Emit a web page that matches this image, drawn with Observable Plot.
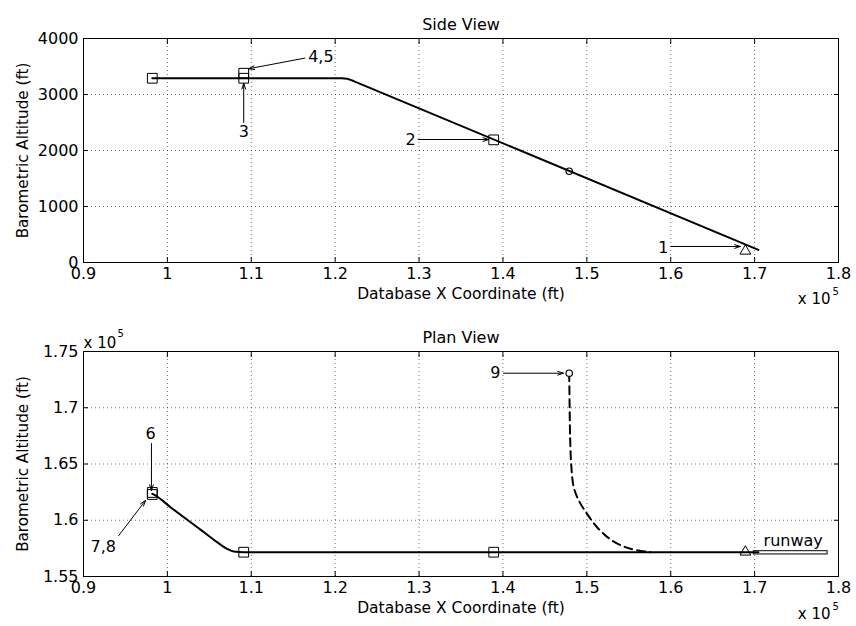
<!DOCTYPE html>
<html>
<head>
<meta charset="utf-8">
<script src="https://cdn.jsdelivr.net/npm/d3@7"></script>
<script src="https://cdn.jsdelivr.net/npm/@observablehq/plot@0.6"></script>
<style>
  html, body { margin: 0; padding: 0; background: #fff; }
  #wrap { position: relative; width: 856px; height: 626px; background: #fff; }
  #wrap svg { position: absolute; left: 0; }
</style>
</head>
<body>
<div id="wrap"></div>
<script>
// ---------- data ----------
const xTicks = [90000, 100000, 110000, 120000, 130000, 140000, 150000, 160000, 170000, 180000];
const sideYTicks = [0, 1000, 2000, 3000, 4000];
const planYTicks = [155000, 160000, 165000, 170000, 175000];

// Side view flight path
const sideLineX = [98200, 120800, 121400, 122200, 170450];
const sideLineY = [3290, 3290, 3283, 3240, 225];
const sideSquareX = [98200, 109100, 109100, 138900];
const sideSquareY = [3290, 3290, 3380, 2190];
const sideCircleX = [147900];
const sideCircleY = [1630];
const sideTriX = [168900];
const sideTriY = [205];
const sideLabels = ["4,5", "3", "2", "1"];
const sideLabelX = [118300, 109100, 128980, 159130];
const sideLabelY = [3665, 2330, 2190, 270];
const sideArrowX1 = [116400, 109100, 129900, 160000];
const sideArrowY1 = [3650, 2500, 2196, 286];
const sideArrowX2 = [109700, 109100, 138300, 168300];
const sideArrowY2 = [3460, 3200, 2196, 286];

// Plan view path
const planLineX = [98200, 98460, 100370, 103940, 105930, 107130, 107910, 109100, 138900, 170450];
const planLineY = [162350, 162260, 161160, 159170, 158050, 157460, 157220, 157160, 157160, 157160];
const planDashX = [147900, 147950, 148020, 148150, 148440, 149030, 150030, 151220, 153000, 155200, 157600];
const planDashY = [173070, 170050, 167000, 164800, 162940, 161760, 160570, 159380, 158200, 157460, 157160];
const planSquareX = [98200, 98200, 109100, 138900];
const planSquareY = [162470, 162290, 157160, 157160];
const planCircleX = [147900];
const planCircleY = [173070];
const planTriX = [168900];
const planTriY = [157180];
const runwayX1 = [169900];
const runwayX2 = [178700];
const runwayY1 = [156960];
const runwayY2 = [157250];
const planLabels = ["6", "7,8", "9", "runway"];
const planLabelX = [98000, 92350, 139100, 174600];
const planLabelY = [167710, 157600, 173070, 158200];
const planArrowX1 = [98100, 94200, 140060];
const planArrowY1 = [166820, 158640, 173070];
const planArrowX2 = [98100, 97390, 147210];
const planArrowY2 = [162640, 161760, 173070];

// ---------- helpers ----------
const FONT = "'DejaVu Sans', Verdana, sans-serif";
const FS = 16;
const fmt = d => d3.format("~g")(+(d / 1e5).toFixed(4));
const pts = (xs, ys) => xs.map((x, i) => ({x, y: ys[i]}));
const idx = arr => arr.map((d, i) => i);

function frameMarks(yTicks, yFormat) {
  return [
    Plot.gridX(xTicks, {stroke: "#000", strokeOpacity: 0.55, strokeDasharray: "1,3"}),
    Plot.gridY(yTicks, {stroke: "#000", strokeOpacity: 0.55, strokeDasharray: "1,3"}),
    Plot.axisX(xTicks, {anchor: "bottom", tickSize: 0, tickPadding: 5, tickFormat: fmt, label: null, fontSize: FS}),
    Plot.axisX(xTicks, {anchor: "bottom", tickSize: -5, fill: "none", label: null}),
    Plot.axisX(xTicks, {anchor: "top", tickSize: -5, fill: "none", label: null}),
    Plot.axisY(yTicks, {anchor: "left", tickSize: 0, tickPadding: 5, tickFormat: yFormat, label: null, fontSize: FS}),
    Plot.axisY(yTicks, {anchor: "left", tickSize: -5, fill: "none", label: null}),
    Plot.axisY(yTicks, {anchor: "right", tickSize: -5, fill: "none", label: null}),
    Plot.frame({stroke: "#000", strokeWidth: 1})
  ];
}

function titleMarks(title) {
  return [
    Plot.text([title], {frameAnchor: "top", dy: -20, text: d => d, fontSize: FS, fill: "#000"}),
    Plot.text(["Database X Coordinate (ft)"], {frameAnchor: "bottom", dy: 36, text: d => d, fontSize: 15.5, fill: "#000"}),
    Plot.text(["Barometric Altitude (ft)"], {frameAnchor: "left", textAnchor: "middle", dx: -60, rotate: -90, text: d => d, fontSize: 15.2, fill: "#000"})
  ];
}

function multiplierMarks(dy) {
  return [
    Plot.text(["x 10"], {frameAnchor: "bottom-right", dx: -8, dy: dy, text: d => d, textAnchor: "end", fontSize: 15, fill: "#000"}),
    Plot.text(["5"], {frameAnchor: "bottom-right", dx: -6, dy: dy - 9, text: d => d, textAnchor: "start", fontSize: 10, fill: "#000"})
  ];
}

const wrap = document.getElementById("wrap");

// ---------- Side view ----------
const side = Plot.plot({
  width: 856, height: 300,
  marginLeft: 83, marginRight: 18, marginTop: 38, marginBottom: 38,
  x: {domain: [90000, 180000]},
  y: {domain: [0, 4000]},
  style: {fontFamily: FONT, fontSize: FS + "px", color: "#000", background: "#fff", overflow: "visible"},
  marks: [
    ...frameMarks(sideYTicks, d => String(d)),
    Plot.line(pts(sideLineX, sideLineY), {x: "x", y: "y", stroke: "#000", strokeWidth: 2}),
    Plot.dot(pts(sideSquareX, sideSquareY), {x: "x", y: "y", symbol: "square", r: 5.5, stroke: "#000", fill: "none", strokeWidth: 1}),
    Plot.dot(pts(sideCircleX, sideCircleY), {x: "x", y: "y", symbol: "circle", r: 3.2, stroke: "#000", fill: "none", strokeWidth: 1.2}),
    Plot.dot(pts(sideTriX, sideTriY), {x: "x", y: "y", symbol: "triangle", r: 4, stroke: "#000", fill: "none", strokeWidth: 1}),
    Plot.arrow(idx(sideArrowX1), {
      x1: i => sideArrowX1[i], y1: i => sideArrowY1[i], x2: i => sideArrowX2[i], y2: i => sideArrowY2[i],
      stroke: "#000", strokeWidth: 1, headLength: 9, headAngle: 36
    }),
    Plot.text(idx(sideLabels), {
      x: i => sideLabelX[i], y: i => sideLabelY[i], text: i => sideLabels[i],
      textAnchor: "middle", fontSize: FS, fill: "#000"
    }),
    ...titleMarks("Side View"),
    ...multiplierMarks(41)
  ]
});
side.style.top = "0px";
wrap.appendChild(side);

// ---------- Plan view ----------
const plan = Plot.plot({
  width: 856, height: 326,
  marginLeft: 83, marginRight: 18, marginTop: 51, marginBottom: 50,
  x: {domain: [90000, 180000]},
  y: {domain: [155000, 175000]},
  style: {fontFamily: FONT, fontSize: FS + "px", color: "#000", background: "transparent", overflow: "visible"},
  marks: [
    ...frameMarks(planYTicks, fmt),
    Plot.rect(idx(runwayX1), {
      x1: i => runwayX1[i], x2: i => runwayX2[i], y1: i => runwayY1[i], y2: i => runwayY2[i],
      fill: "#fff", stroke: "#000", strokeWidth: 1
    }),
    Plot.line(pts(planLineX, planLineY), {x: "x", y: "y", stroke: "#000", strokeWidth: 2, curve: "monotone-x"}),
    Plot.line(pts(planDashX, planDashY), {x: "x", y: "y", stroke: "#000", strokeWidth: 2, strokeDasharray: "8,5", curve: "catmull-rom"}),
    Plot.dot(pts(planSquareX, planSquareY), {x: "x", y: "y", symbol: "square", r: 5.5, stroke: "#000", fill: "none", strokeWidth: 1}),
    Plot.dot(pts(planCircleX, planCircleY), {x: "x", y: "y", symbol: "circle", r: 3.2, stroke: "#000", fill: "#fff", strokeWidth: 1.2}),
    Plot.dot(pts(planTriX, planTriY), {x: "x", y: "y", symbol: "triangle", r: 4, stroke: "#000", fill: "none", strokeWidth: 1}),
    Plot.arrow(idx(planArrowX1), {
      x1: i => planArrowX1[i], y1: i => planArrowY1[i], x2: i => planArrowX2[i], y2: i => planArrowY2[i],
      stroke: "#000", strokeWidth: 1, headLength: 9, headAngle: 36
    }),
    Plot.text(idx(planLabels), {
      x: i => planLabelX[i], y: i => planLabelY[i], text: i => planLabels[i],
      textAnchor: "middle", fontSize: FS, fill: "#000"
    }),
    ...titleMarks("Plan View"),
    ...multiplierMarks(42),
    Plot.text(["x 10"], {frameAnchor: "top-left", dx: 0, dy: -14, text: d => d, textAnchor: "start", fontSize: 15, fill: "#000"}),
    Plot.text(["5"], {frameAnchor: "top-left", dx: 34, dy: -22, text: d => d, textAnchor: "start", fontSize: 10, fill: "#000"})
  ]
});
plan.style.top = "300px";
wrap.appendChild(plan);
</script>
</body>
</html>
